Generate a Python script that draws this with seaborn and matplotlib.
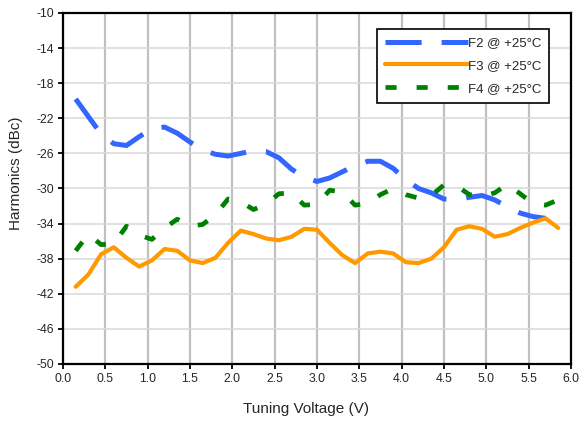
import numpy as np
import pandas as pd
import seaborn as sns
import matplotlib
matplotlib.use("Agg")
import matplotlib.pyplot as plt

# tuning voltage (V)
volts = [0.15, 0.3, 0.45, 0.6, 0.75, 0.9, 1.05, 1.2, 1.35, 1.5, 1.65, 1.8, 1.95,
         2.1, 2.25, 2.4, 2.55, 2.7, 2.85, 3.0, 3.15, 3.3, 3.45, 3.6, 3.75, 3.9,
         4.05, 4.2, 4.35, 4.5, 4.65, 4.8, 4.95, 5.1, 5.25, 5.4, 5.55, 5.7, 5.85]

f2 = [-19.8, -21.8, -23.8, -24.9, -25.1, -24.1, -23.2, -23.0, -23.7, -24.7, -25.6,
      -26.1, -26.3, -26.0, -25.7, -25.8, -26.5, -27.8, -28.7, -29.2, -28.8, -28.1,
      -27.4, -26.9, -26.9, -27.7, -29.0, -30.0, -30.5, -31.2, -31.3, -31.0, -30.8,
      -31.3, -32.1, -32.8, -33.2, -33.4]
f3 = [-41.2, -39.8, -37.5, -36.7, -37.9, -38.9, -38.2, -36.9, -37.1, -38.2, -38.5,
      -37.9, -36.2, -34.8, -35.2, -35.7, -35.9, -35.5, -34.6, -34.7, -36.2, -37.6,
      -38.5, -37.4, -37.2, -37.4, -38.4, -38.5, -38.0, -36.7, -34.7, -34.3, -34.6,
      -35.5, -35.2, -34.5, -33.9, -33.4, -34.5]
f4 = [-37.1, -35.2, -36.4, -36.3, -34.3, -35.3, -35.8, -34.5, -33.5, -34.3, -34.1,
      -33.0, -31.2, -31.5, -32.4, -31.8, -30.6, -30.5, -31.9, -31.8, -30.2, -30.4,
      -31.9, -31.7, -30.7, -30.0, -30.7, -31.1, -30.8, -29.6, -29.7, -30.7, -30.9,
      -30.5, -29.5, -30.6, -31.7, -31.9, -31.3]

labels = ["F2 @ +25°C", "F3 @ +25°C", "F4 @ +25°C"]
xticks = [0.0, 0.5, 1.0, 1.5, 2.0, 2.5, 3.0, 3.5, 4.0, 4.5, 5.0, 5.5, 6.0]
yticks = [-10, -14, -18, -22, -26, -30, -34, -38, -42, -46, -50]

sns.set_style("white")
plt.rcParams["font.family"] = ["Liberation Sans", "DejaVu Sans"]
plt.rcParams["axes.unicode_minus"] = False
plt.rcParams["lines.scale_dashes"] = False

fig = plt.figure(figsize=(5.82, 4.23), dpi=100)
ax = fig.add_axes([0.1082, 0.1395, 0.8728, 0.8298])

d2 = pd.DataFrame({"v": volts[:len(f2)], "dbc": f2})
d3 = pd.DataFrame({"v": volts, "dbc": f3})
d4 = pd.DataFrame({"v": volts, "dbc": f4})

sns.lineplot(data=d2, x="v", y="dbc", ax=ax, color="#3366FF", lw=3.6,
             linestyle=(0, (26, 14.4)), dash_capstyle="butt", label=labels[0])
sns.lineplot(data=d3, x="v", y="dbc", ax=ax, color="#FF9900", lw=3.0,
             solid_capstyle="round", label=labels[1])
sns.lineplot(data=d4, x="v", y="dbc", ax=ax, color="#008000", lw=3.4,
             linestyle=(0, (8, 14.4)), dash_capstyle="butt", label=labels[2])

ax.set_xlim(0, 6)
ax.set_ylim(-50, -10)
ax.set_xticks(xticks)
ax.set_xticklabels([f"{t:.1f}" for t in xticks])
ax.set_yticks(yticks)
ax.set_yticklabels([str(t) for t in yticks])

ax.xaxis.grid(True, color="#c0c0c0", lw=1.6)
ax.yaxis.grid(True, color="#d9d9d9", lw=1.1)
ax.set_axisbelow(True)
for s in ax.spines.values():
    s.set_color("black")
    s.set_linewidth(1.6)
ax.tick_params(axis="both", direction="out", length=3.5, width=1.3,
               color="black", labelsize=8.8, pad=3, bottom=True, left=True)

# the labels sit a little off-centre in the original
ax.set_xlabel("Tuning Voltage (V)", fontsize=11)
ax.set_ylabel("Harmonics (dBc)", fontsize=11)
ax.xaxis.set_label_coords(0.478, -0.108)
ax.yaxis.set_label_coords(-0.079, 0.543)

leg = ax.legend(loc="upper left", bbox_to_anchor=(0.618, 0.954),
                borderaxespad=0, fontsize=9.5, handlelength=6.3,
                handletextpad=0.0, labelspacing=0.8, borderpad=0.6,
                frameon=True, fancybox=False, shadow=False)
leg.get_frame().set_edgecolor("black")
leg.get_frame().set_linewidth(1.2)
leg.get_frame().set_alpha(1)

fig.savefig("out.png", dpi=100)
